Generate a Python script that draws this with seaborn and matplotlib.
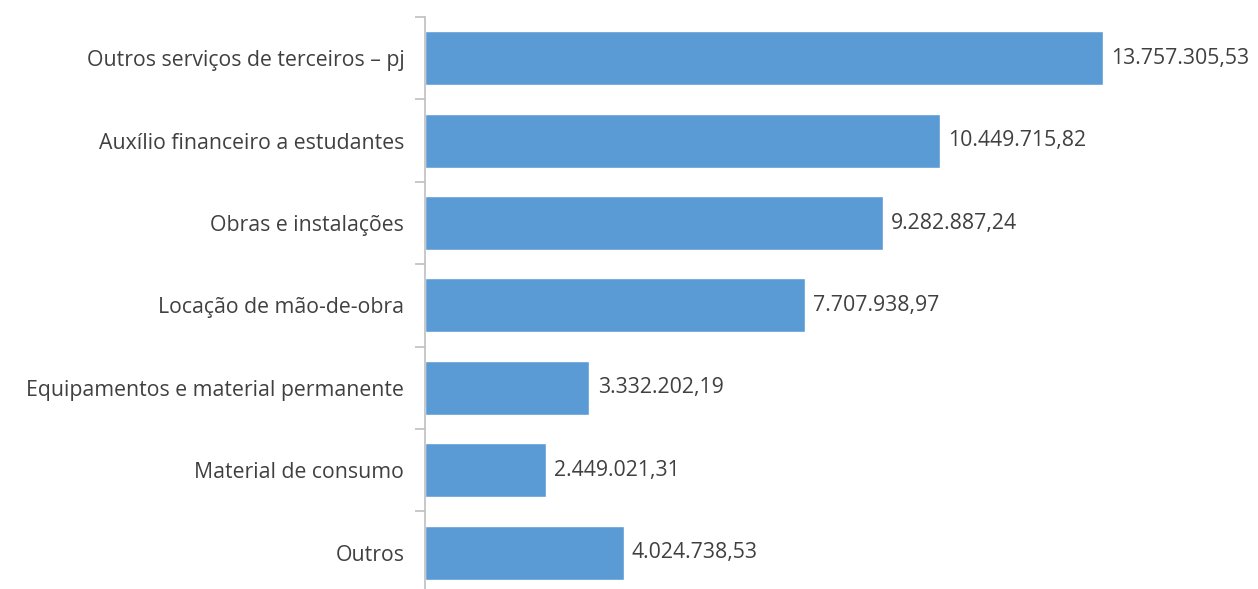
import numpy as np
import pandas as pd
import matplotlib
matplotlib.use("Agg")
import matplotlib.pyplot as plt
import seaborn as sns

categorias = [
    "Outros serviços de terceiros – pj",
    "Auxílio financeiro a estudantes",
    "Obras e instalações",
    "Locação de mão-de-obra",
    "Equipamentos e material permanente",
    "Material de consumo",
    "Outros",
]
valores = [13757305.53, 10449715.82, 9282887.24, 7707938.97, 3332202.19, 2449021.31, 4024738.53]
rotulos = ["13.757.305,53", "10.449.715,82", "9.282.887,24", "7.707.938,97",
           "3.332.202,19", "2.449.021,31", "4.024.738,53"]

df = pd.DataFrame({"categoria": categorias, "valor": valores})

sns.set_style("white")
plt.rcParams["font.family"] = ["Open Sans", "DejaVu Sans"]

fig = plt.figure(figsize=(12.58, 5.89), dpi=100)
ax = fig.add_axes([0.338, -0.008, 0.662, 0.979])

sns.barplot(data=df, x="valor", y="categoria", color="#5B9BD5", saturation=1,
            width=0.655, ax=ax)

for i, (v, r) in enumerate(zip(valores, rotulos)):
    ax.text(v + 170000, i, r, va="center", ha="left", fontsize=15.3, color="#404040")

ax.set_xlim(0, 16.9e6)
ax.set_ylim(len(categorias) - 0.5, -0.5)
ax.set_xlabel("")
ax.set_ylabel("")
ax.set_xticks([])
for s in ["top", "right", "bottom"]:
    ax.spines[s].set_visible(False)
ax.spines["left"].set_color("#BFBFBF")
ax.spines["left"].set_linewidth(1.2)

ax.tick_params(axis="y", which="major", left=False, length=0, labelsize=15.3,
               labelcolor="#404040", pad=15)
ax.set_yticks(np.arange(-0.5, len(categorias), 1), minor=True)
ax.tick_params(axis="y", which="minor", left=True, length=7, color="#BFBFBF", width=1.2)

fig.savefig("out.png", dpi=100)
